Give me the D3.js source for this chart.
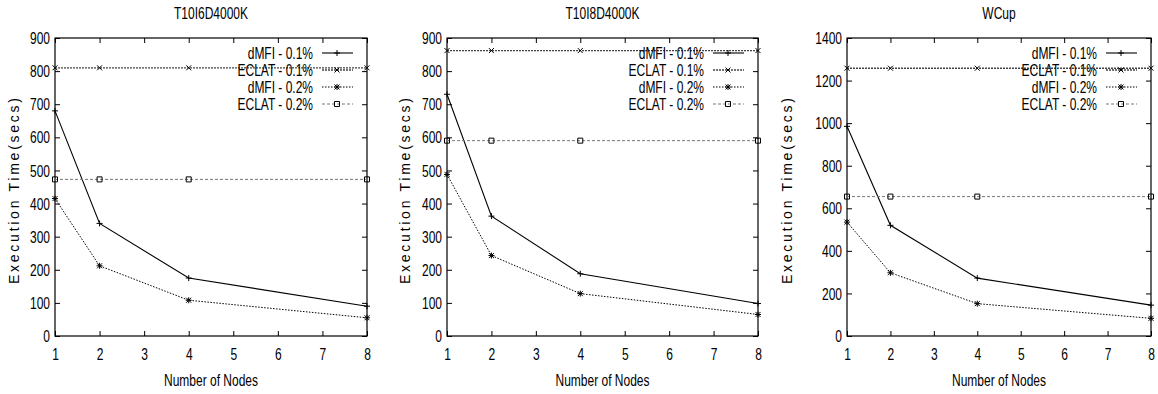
<!DOCTYPE html>
<html><head><meta charset="utf-8">
<script src="https://cdn.jsdelivr.net/npm/d3@7"></script>
<style>body{margin:0;background:#fff}svg{display:block}</style>
</head><body>
<script>
const nodes = [1, 2, 4, 8];
const xTicks = [1, 2, 3, 4, 5, 6, 7, 8];
const seriesNames = ["dMFI - 0.1%", "ECLAT - 0.1%", "dMFI - 0.2%", "ECLAT - 0.2%"];

const titles = ["T10I6D4000K", "T10I8D4000K", "WCup"];
const yTicks1 = [0, 100, 200, 300, 400, 500, 600, 700, 800, 900];
const yTicks2 = [0, 100, 200, 300, 400, 500, 600, 700, 800, 900];
const yTicks3 = [0, 200, 400, 600, 800, 1000, 1200, 1400];

const p1_dmfi01 = [680, 340, 175, 90];
const p1_eclat01 = [810, 810, 810, 810];
const p1_dmfi02 = [415, 212, 108, 55];
const p1_eclat02 = [473, 473, 473, 473];

const p2_dmfi01 = [730, 362, 188, 98];
const p2_eclat01 = [862, 862, 862, 862];
const p2_dmfi02 = [488, 243, 128, 65];
const p2_eclat02 = [590, 590, 590, 590];

const p3_dmfi01 = [985, 520, 272, 145];
const p3_eclat01 = [1258, 1258, 1258, 1258];
const p3_dmfi02 = [535, 297, 152, 83];
const p3_eclat02 = [655, 655, 655, 655];

const W = 1158, H = 394;
const SX = 0.75; // horizontal squash of text
const FONT = "'Liberation Sans', Arial, sans-serif";

const panels = [
  {left: 55, right: 367, yTicks: yTicks1, series: [p1_dmfi01, p1_eclat01, p1_dmfi02, p1_eclat02], ylab: 14},
  {left: 447, right: 758, yTicks: yTicks2, series: [p2_dmfi01, p2_eclat01, p2_dmfi02, p2_eclat02], ylab: 405},
  {left: 847, right: 1151, yTicks: yTicks3, series: [p3_dmfi01, p3_eclat01, p3_dmfi02, p3_eclat02], ylab: 787}
];
const plotTop = 38, plotBottom = 336;

const styles = [
  {stroke: "#000", width: 1.1, dash: null, marker: "plus"},
  {stroke: "#444", width: 1.3, dash: "2,1", marker: "x"},
  {stroke: "#000", width: 1, dash: "1.5,1.5", marker: "star"},
  {stroke: "#777", width: 1, dash: "3,2", marker: "square"}
];
const markerPath = {
  plus: "M-3,0H3M0,-3V3",
  x: "M-2.5,-2.5L2.5,2.5M-2.5,2.5L2.5,-2.5",
  star: "M-3,0H3M0,-3V3M-2.5,-2.5L2.5,2.5M-2.5,2.5L2.5,-2.5",
  square: "M-2.5,-2.5H2.5V2.5H-2.5Z"
};

const svg = d3.select("body").append("svg").attr("width", W).attr("height", H)
  .style("font-family", FONT);

function hText(g, x, y, str, anchor) {
  return g.append("text").attr("transform", `translate(${x},${y}) scale(${SX},1)`)
    .attr("text-anchor", anchor).attr("dominant-baseline", "central")
    .attr("font-size", 16).attr("fill", "#000").text(str);
}

panels.forEach((p, i) => {
  const g = svg.append("g");
  const x = d3.scaleLinear().domain([1, 8]).range([p.left, p.right]);
  const yMax = p.yTicks[p.yTicks.length - 1];
  const y = d3.scaleLinear().domain([0, yMax]).range([plotBottom, plotTop]);

  const ax = g.append("g").attr("transform", `translate(0,${plotBottom})`)
    .call(d3.axisBottom(x).tickValues(xTicks).tickFormat(d3.format("d")).tickSizeInner(-5).tickSizeOuter(0).tickPadding(0));
  ax.selectAll("text").attr("font-size", 16).attr("font-family", FONT).attr("fill", "#000")
    .attr("y", 0).attr("dy", null).attr("dominant-baseline", "central")
    .attr("transform", `translate(0,18) scale(${SX},1)`);
  const ay = g.append("g").attr("transform", `translate(${p.left},0)`)
    .call(d3.axisLeft(y).tickValues(p.yTicks).tickFormat(d3.format("d")).tickSizeInner(-5).tickSizeOuter(0).tickPadding(0));
  ay.selectAll("text").attr("font-size", 16).attr("font-family", FONT).attr("fill", "#000")
    .attr("x", 0).attr("dy", null).attr("dominant-baseline", "central")
    .attr("transform", `translate(-5,0) scale(${SX},1)`);
  const ar = g.append("g").attr("transform", `translate(${p.right},0)`)
    .call(d3.axisRight(y).tickValues(p.yTicks).tickSizeInner(-5).tickSizeOuter(0).tickFormat(""));
  const at = g.append("g").attr("transform", `translate(0,${plotTop})`)
    .call(d3.axisTop(x).tickValues(xTicks).tickSizeInner(-5).tickSizeOuter(0).tickFormat(""));
  [ax, ay, ar, at].forEach(a => { a.select(".domain").remove(); a.selectAll("line").attr("stroke", "#000"); });

  g.append("rect").attr("x", p.left).attr("y", plotTop).attr("width", p.right - p.left).attr("height", plotBottom - plotTop)
    .attr("fill", "none").attr("stroke", "#000").attr("stroke-width", 1.2);

  const line = d3.line().x((d, j) => x(nodes[j])).y(d => y(d));
  p.series.forEach((vals, s) => {
    const st = styles[s];
    g.append("path").datum(vals).attr("d", line).attr("fill", "none")
      .attr("stroke", st.stroke).attr("stroke-width", st.width).attr("stroke-dasharray", st.dash);
    g.selectAll(null).data(vals).enter().append("path")
      .attr("transform", (d, j) => `translate(${x(nodes[j])},${y(d)})`)
      .attr("d", markerPath[st.marker]).attr("fill", "none").attr("stroke", "#000").attr("stroke-width", 1);
  });

  seriesNames.forEach((name, s) => {
    const st = styles[s];
    const ly = 53 + s * 17;
    hText(g, p.right - 54, ly, name, "end");
    g.append("line").attr("x1", p.right - 45).attr("x2", p.right - 14).attr("y1", ly).attr("y2", ly)
      .attr("stroke", st.stroke).attr("stroke-width", st.width).attr("stroke-dasharray", st.dash);
    g.append("path").attr("transform", `translate(${p.right - 30},${ly})`)
      .attr("d", markerPath[st.marker]).attr("fill", "none").attr("stroke", "#000");
  });

  hText(g, (p.left + p.right) / 2, 13, titles[i], "middle");
  hText(g, (p.left + p.right) / 2, 380, "Number of Nodes", "middle");
  g.append("text").attr("transform", `translate(${p.ylab},${(plotTop + plotBottom) / 2 + 4}) rotate(-90)`)
    .attr("text-anchor", "middle").attr("dominant-baseline", "central")
    .attr("font-size", 14).attr("textLength", 186).attr("lengthAdjust", "spacing")
    .attr("fill", "#000").text("Execution Time(secs)");
});
</script>
</body></html>
